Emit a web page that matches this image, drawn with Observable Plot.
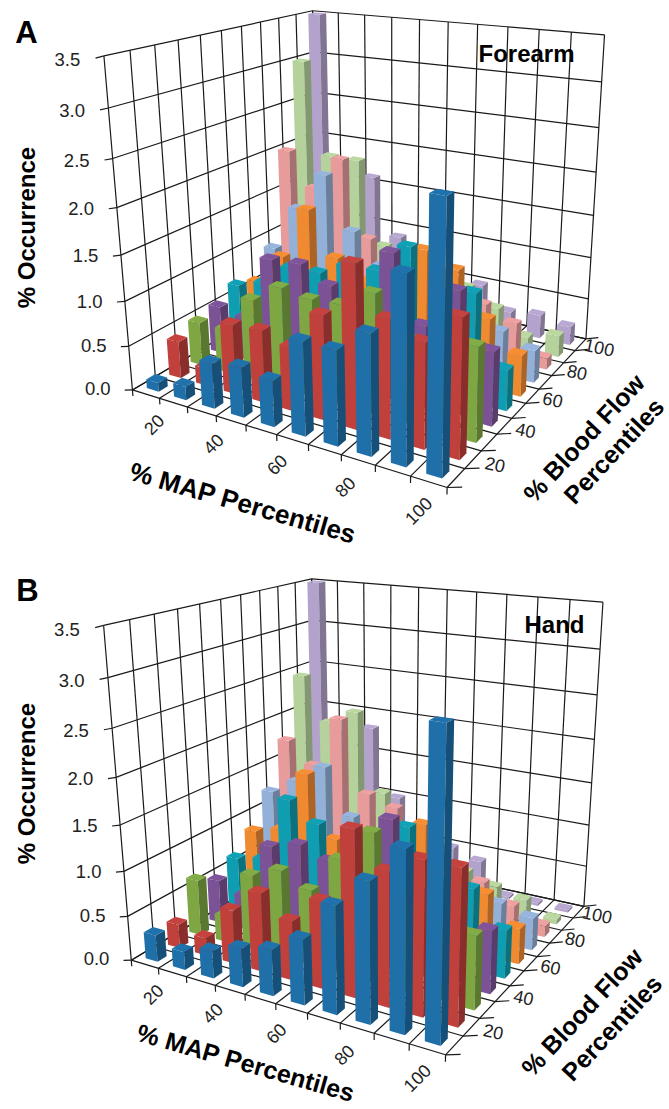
<!DOCTYPE html>
<html><head><meta charset="utf-8">
<style>html,body{margin:0;padding:0;background:#fff}svg{display:block}</style>
<script src="https://cdn.jsdelivr.net/npm/d3@7"></script>
<script src="https://cdn.jsdelivr.net/npm/@observablehq/plot@0.6"></script>
</head><body><div id="chart"></div>
<script>
const mapTicks = [20,40,60,80,100];
const flowTicks = [20,40,60,80,100];
const occurrenceTicks = [0,0.5,1,1.5,2,2.5,3,3.5];
const seriesColors = ["#1f6fa8","#c0403c","#7ea743","#7b5296","#0f9db1","#f08a30","#93b0d8","#e89b9b","#b6d29c","#b3a3cc"];

const forearm10 = [.1,.15,.5,.55,.5,1.0,1.0,1.25,1.9,2.65];
const forearm20 = [.42,.2,.78,.8,.7,1.13,1.73,1.25,1.1,1.43];
const forearm30 = [.5,.5,.92,1.13,1.08,1.1,1.3,.9,.7,1.0];
const forearm40 = [.55,.5,1.25,1.27,1.1,.9,1.6,.9,1.35,.8];
const forearm50 = [.68,.78,1.03,1.05,1.2,1.22,1.55,.9,1.2,.45];
const forearm60 = [.6,.98,1.6,1.1,.9,.9,1.4,1.25,.78,.46];
const forearm70 = [.9,1.45,1.9,1.3,.95,.7,.6,.5,.5,.37];
const forearm80 = [2.0,1.6,2.0,1.1,.7,.6,.5,.6,.45,.13];
const forearm90 = [3.0,1.9,1.9,.9,.7,.6,.6,.42,.15,.25];
const forearm100 = [3.5,1.7,1.6,.9,.7,.5,.5,.24,.28,.22];

const hand10 = [.3,.2,.3,.42,.5,.7,1.13,1.45,1.83,3.0];
const hand20 = [.27,.2,.6,.87,.65,.95,1.76,1.41,1.6,1.6];
const hand30 = [.64,.3,.85,.98,.84,1.25,1.6,1.0,.8,.78];
const hand40 = [.5,.4,1.05,1.14,1.03,.9,1.62,.9,.7,.68];
const hand50 = [.64,.7,1.46,1.25,.9,.8,1.42,.9,.9,.53];
const hand60 = [.85,.93,1.65,.95,.8,.8,1.33,.8,.7,.4];
const hand70 = [1.22,1.4,1.63,1.1,.8,.6,.5,.5,.45,.37];
const hand80 = [1.75,1.5,2.1,1.26,1.16,.6,.5,.48,.28,.13];
const hand90 = [2.45,1.93,2.1,1.17,.8,.5,.4,.29,.21,.06];
const hand100 = [3.5,1.7,1.82,1.0,.7,.5,.4,.03,.03,.03];

const forearmValues = [forearm10,forearm20,forearm30,forearm40,forearm50,forearm60,forearm70,forearm80,forearm90,forearm100];
const handValues = [hand10,hand20,hand30,hand40,hand50,hand60,hand70,hand80,hand90,hand100];

// Box corners seen in the picture: [MAP, flow, occurrence/3.5] -> [x, y]
const cornersA = [[0,0,0,131,389],[1,0,0,446,488],[1,1,0,585,337],[0,1,0,320,280],[0,0,1,105,55],[0,1,1,310,10],[1,1,1,605,35]];
const cornersB = [[0,0,0,130,404],[1,0,0,445,500],[1,1,0,583,350],[0,1,0,318,294],[0,0,1,104,70],[0,1,1,310,23],[1,1,1,603,47]];

function solveCamera(pts){
  const A=[],b=[];
  for(const [u,v,w,x,y] of pts){
    A.push([u,v,w,1,0,0,0,0,-x*u,-x*v,-x*w]);b.push(x);
    A.push([0,0,0,0,u,v,w,1,-y*u,-y*v,-y*w]);b.push(y);
  }
  const n=11, M=d3.range(n).map(i=>d3.range(n+1).map(j=>{
    let s=0;for(let k=0;k<A.length;k++)s+=A[k][i]*(j<n?A[k][j]:b[k]);return s;}));
  for(let c=0;c<n;c++){
    let p=c;for(let r=c+1;r<n;r++)if(Math.abs(M[r][c])>Math.abs(M[p][c]))p=r;
    [M[c],M[p]]=[M[p],M[c]];
    for(let r=0;r<n;r++){if(r===c)continue;const f=M[r][c]/M[c][c];for(let j=c;j<=n;j++)M[r][j]-=f*M[c][j];}
  }
  const h=M.map((r,i)=>r[n]/r[i]);
  return (u,v,z)=>{const w=z/3.5,d=h[8]*u+h[9]*v+h[10]*w+1;
    return [(h[0]*u+h[1]*v+h[2]*w+h[3])/d,(h[4]*u+h[5]*v+h[6]*w+h[7])/d];};
}
function shade(c,k){const r=d3.rgb(c);return d3.rgb(Math.min(255,r.r*k),Math.min(255,r.g*k),Math.min(255,r.b*k)).formatHex();}

function panel({letter,label,labelX,labelY,values,corners,height,text}){
  const P=solveCamera(corners);
  const seg=(a,b)=>{const p=P(...a),q=P(...b);return {x1:p[0],y1:p[1],x2:q[0],y2:q[1]};};
  const cells=d3.range(11).map(i=>i/10);
  const grid=[
    ...occurrenceTicks.flatMap(z=>[seg([0,0,z],[0,1,z]),seg([0,1,z],[1,1,z])]),
    ...cells.flatMap(t=>[seg([0,t,0],[0,t,3.5]),seg([t,1,0],[t,1,3.5])]),
    ...cells.flatMap(t=>[seg([t,0,0],[t,1,0]),seg([0,t,0],[1,t,0])]),
    ...cells.map(t=>seg([t,0,0],[t,0,-0.07])),
    ...cells.map(t=>seg([1,t,0],[1.04,t,0.05])),
    ...occurrenceTicks.map(z=>seg([0,0,z],[-0.03,0,z-0.03])),
  ];
  const faces=[];let id=0;
  const bw=0.22, vd=0.2;
  for(let j=9;j>=0;j--)for(let i=0;i<10;i++){
    const z=values[j][i],c=seriesColors[j];
    const u0=(i+.5-bw)/10,u1=(i+.5+bw)/10,v0=(j+.5-vd)/10,v1=(j+.5+vd)/10;
    const add=(pts,col)=>{id++;for(const p of pts){const q=P(...p);faces.push({x:q[0],y:q[1],id,col});}};
    add([[u0,v0,0],[u1,v0,0],[u1,v0,z],[u0,v0,z]],c);
    add([[u1,v0,0],[u1,v1,0],[u1,v1,z],[u1,v0,z]],shade(c,.72));
    add([[u0,v0,z],[u1,v0,z],[u1,v1,z],[u0,v1,z]],shade(c,1.03));
  }
  const zLabels=occurrenceTicks.map(z=>{const p=P(-0.085,0,z-0.07);return {x:p[0],y:p[1],t:z.toFixed(1)};});
  const uLabels=mapTicks.map(t=>{const p=P(t/100-.012,-0.125,0);return {x:p[0],y:p[1],t:String(t)};});
  const vLabels=flowTicks.map(t=>{const p=P(1.06,t/100-.05,0.01);return {x:p[0],y:p[1],t:String(t)};});
  return Plot.plot({
    width:669,height,margin:0,
    x:{domain:[0,669],range:[0,669],axis:null},
    y:{domain:[0,height],range:[0,height],axis:null},
    color:{type:"identity"},
    style:{fontFamily:"'Liberation Sans',Arial,sans-serif",background:"#fff"},
    marks:[
      Plot.link(grid,{x1:"x1",y1:"y1",x2:"x2",y2:"y2",stroke:"#1a1a1a",strokeWidth:1.2}),
      Plot.line(faces,{x:"x",y:"y",z:"id",fill:"col",stroke:"none",curve:"linear-closed"}),
      Plot.text(zLabels,{x:"x",y:"y",text:"t",textAnchor:"end",fontSize:18.5,fill:"#222"}),
      Plot.text(uLabels,{x:"x",y:"y",text:"t",rotate:-45,fontSize:18,fill:"#222"}),
      Plot.text(vLabels,{x:"x",y:"y",text:"t",rotate:12,fontSize:18,fill:"#222"}),
      Plot.text([letter],{x:()=>text.letter[0],y:()=>text.letter[1],fontSize:31,fontWeight:"bold",fill:"#000"}),
      Plot.text([label],{x:()=>labelX,y:()=>labelY,fontSize:24,fontWeight:"bold",fill:"#000"}),
      Plot.text(["% Occurrence"],{x:()=>text.occ[0],y:()=>text.occ[1],rotate:-90,fontSize:24,fontWeight:"bold",fill:"#000"}),
      Plot.text(["% MAP Percentiles"],{x:()=>text.map[0],y:()=>text.map[1],rotate:16,fontSize:text.mapSize,fontWeight:"bold",fill:"#000"}),
      Plot.text(["% Blood Flow"],{x:()=>text.bf1[0],y:()=>text.bf1[1],rotate:-47,fontSize:25,fontWeight:"bold",fill:"#000"}),
      Plot.text(["Percentiles"],{x:()=>text.bf2[0],y:()=>text.bf2[1],rotate:-47,fontSize:25,fontWeight:"bold",fill:"#000"}),
    ]
  });
}
const root=document.getElementById("chart");
root.append(panel({letter:"A",label:"Forearm",labelX:526,labelY:54,values:forearmValues,corners:cornersA,height:555,
  text:{letter:[26,33],occ:[27,227],map:[242,503],mapSize:26,bf1:[584,438],bf2:[614,451]}}));
root.append(panel({letter:"B",label:"Hand",labelX:554,labelY:70,values:handValues,corners:cornersB,height:554,
  text:{letter:[27,36],occ:[27,228],map:[245,508],mapSize:25,bf1:[582,457],bf2:[612,473]}}));
</script></body></html>
